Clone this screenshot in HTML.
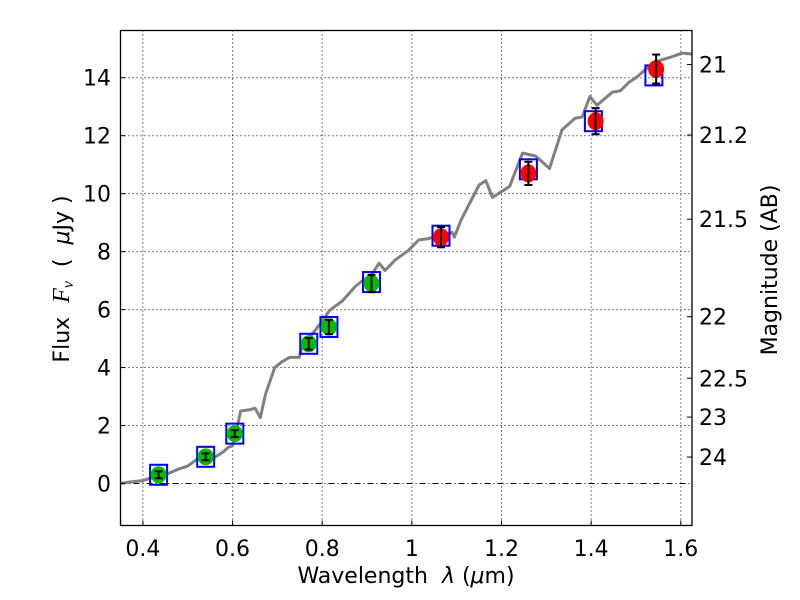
<!DOCTYPE html>
<html><head><meta charset="utf-8"><style>
body{margin:0;background:#fff;}
svg{display:block;font-family:"DejaVu Sans","Liberation Sans",sans-serif;}
text{white-space:pre;}
</style></head><body>
<svg id="chart" width="800" height="600" viewBox="0 0 800 600">
<rect width="800" height="600" fill="#fff"/>
<g id="grid"></g>
<g id="plot"></g>
<rect x="120.5" y="30.5" width="571.5" height="495" fill="none" stroke="#000" stroke-width="1.3"/>
<g id="axes"></g>
<text x="406" y="583" font-size="22" text-anchor="middle">Wavelength  <tspan font-style="italic">λ</tspan> (<tspan font-style="italic">μ</tspan>m)</text>
<text transform="translate(69,279) rotate(-90)" font-size="22" text-anchor="middle">Flux  <tspan font-family="Liberation Serif" font-style="italic" font-size="24">F</tspan><tspan font-family="Liberation Serif" font-style="italic" font-size="16" dy="4">ν</tspan><tspan dy="-4">  (  </tspan><tspan font-style="italic">μ</tspan>Jy )</text>
<text transform="translate(777,270) rotate(-90)" font-size="22" text-anchor="middle">Magnitude (AB)</text>
</svg>
<script>
const xTicks=[0.4,0.6,0.8,1.0,1.2,1.4,1.6];
const xTickLabels=["0.4","0.6","0.8","1","1.2","1.4","1.6"];
const yTicks=[0,2,4,6,8,10,12,14];
const magTicks=[21,21.2,21.5,22,22.5,23,24];
const magTickLabels=["21","21.2","21.5","22","22.5","23","24"];
const specLam=[0.35,0.37,0.4,0.42,0.45,0.48,0.5,0.52,0.55,0.57,0.58,0.59,0.6,0.61,0.618,0.64,0.65,0.662,0.674,0.694,0.71,0.727,0.749,0.756,0.78,0.8,0.816,0.845,0.874,0.89,0.91,0.927,0.94,0.962,0.993,1.015,1.037,1.06,1.09,1.095,1.11,1.15,1.165,1.18,1.218,1.247,1.276,1.307,1.335,1.364,1.38,1.397,1.413,1.447,1.465,1.485,1.5,1.53,1.553,1.575,1.604,1.625];
const specFlux=[0.0,0.05,0.1,0.2,0.3,0.5,0.6,0.83,0.8,1.0,1.1,1.25,1.3,1.9,2.5,2.55,2.6,2.27,3.1,4.0,4.2,4.35,4.35,4.8,5.2,5.6,5.97,6.3,6.8,7.0,7.2,7.6,7.35,7.7,8.05,8.4,8.45,8.55,8.66,8.5,9.1,10.3,10.45,9.87,10.25,11.4,11.3,10.87,12.2,12.6,12.65,13.35,13.05,13.5,13.55,13.85,14.0,14.4,14.6,14.7,14.85,14.82];
const greenLam=[0.435,0.54,0.605,0.77,0.815,0.91];
const greenFlux=[0.3,0.92,1.72,4.82,5.4,6.9];
const greenErr=[0.12,0.12,0.12,0.2,0.25,0.3];
const redLam=[1.065,1.26,1.41,1.545];
const redFlux=[8.5,10.7,12.5,14.3];
const redErr=[0.35,0.4,0.45,0.5];
const boxLam=[0.435,0.54,0.605,0.77,0.815,0.91,1.065,1.26,1.405,1.54];
const boxFlux=[0.3,0.92,1.72,4.82,5.4,6.95,8.55,10.84,12.5,14.08];

const X0=120.5,X1=692,Y0=30.5,Y1=525.5;
const xmin=0.35,xmax=1.625,ymin=-1.45,ymax=15.63;
const sx=v=>X0+(v-xmin)/(xmax-xmin)*(X1-X0);
const sy=v=>Y1-(v-ymin)/(ymax-ymin)*(Y1-Y0);
const NS="http://www.w3.org/2000/svg";
function mk(tag,attrs,parent){const e=document.createElementNS(NS,tag);for(const k in attrs)e.setAttribute(k,attrs[k]);parent.appendChild(e);return e;}
const grid=document.getElementById('grid'),plot=document.getElementById('plot'),axes=document.getElementById('axes');

xTicks.forEach((t,i)=>{
  const x=sx(t);
  const g=mk('line',{x1:x,x2:x,y1:Y0,y2:Y1,stroke:'#000','stroke-width':1,'stroke-dasharray':'1,3'},grid);
  
  
  const tk=mk('line',{x1:x,x2:x,y1:Y1,y2:Y1-5,stroke:'#000'},axes);
  
  
  const lb=mk('text',{x:x,y:556,'font-size':22,'text-anchor':'middle'},axes);
  lb.textContent=xTickLabels[i];
  
  
});
yTicks.forEach(t=>{
  const y=sy(t);
  const g=mk('line',{x1:X0,x2:X1,y1:y,y2:y,stroke:'#000','stroke-width':1,'stroke-dasharray':t===0?'6,3,1,3':'1,3'},grid);
  
  
  const tk=mk('line',{x1:X0,x2:X0+5,y1:y,y2:y,stroke:'#000'},axes);
  
  
  const lb=mk('text',{x:111,y:y+8,'font-size':22,'text-anchor':'end'},axes);
  lb.textContent=String(t);
  
  
});
const magFlux=m=>Math.pow(10,(23.9-m)/2.5);
magTicks.forEach((m,i)=>{
  const y=sy(magFlux(m));
  const tk=mk('line',{x1:X1-5,x2:X1,y1:y,y2:y,stroke:'#000'},axes);
  
  
  const lb=mk('text',{x:699,y:y+8,'font-size':22},axes);
  lb.textContent=magTickLabels[i];
  
  
});

const pts=specLam.map((l,i)=>sx(l).toFixed(1)+','+sy(specFlux[i]).toFixed(1)).join(' ');
const sp=mk('polyline',{points:pts,fill:'none',stroke:'#808080','stroke-width':3,'stroke-linejoin':'round'},plot);



function errbar(l,f,e){
  const x=sx(l),y1=sy(f-e),y2=sy(f+e);
  const g=mk('g',{stroke:'#000','stroke-width':2},plot);
  
  
  mk('line',{x1:x,x2:x,y1:y1,y2:y2},g);
  mk('line',{x1:x-4,x2:x+4,y1:y1,y2:y1},g);
  mk('line',{x1:x-4,x2:x+4,y1:y2,y2:y2},g);
}
boxLam.forEach((l,i)=>{
  const b=mk('rect',{x:sx(l)-8.5,y:sy(boxFlux[i])-10,width:17,height:20,fill:'none',stroke:'#0000ff','stroke-width':2},plot);
  
  
});
greenLam.forEach((l,i)=>{
  const c=mk('ellipse',{cx:sx(l),cy:sy(greenFlux[i]),rx:8,ry:8.5,fill:'#00bb00'},plot);
  
  
  errbar(l,greenFlux[i],greenErr[i]);
});
redLam.forEach((l,i)=>{
  const c=mk('ellipse',{cx:sx(l),cy:sy(redFlux[i]),rx:8,ry:9,fill:'#ff0000'},plot);
  
  
  errbar(l,redFlux[i],redErr[i]);
});
</script>
</body></html>
